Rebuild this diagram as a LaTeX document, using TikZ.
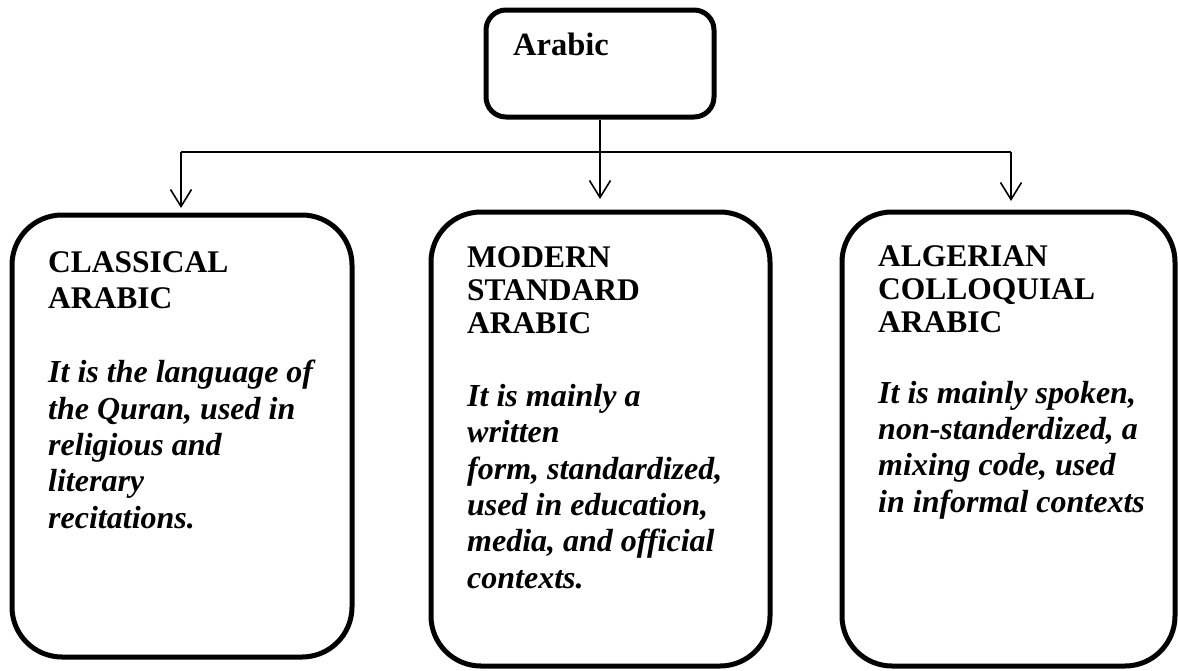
\documentclass[tikz,border=0pt]{standalone}
\usepackage{fontspec}
\setmainfont{Liberation Serif}
\usetikzlibrary{arrows.meta}
\tikzset{
  box/.style={draw=black, line width=5pt, rounded corners=50pt, inner sep=0pt},
  topbox/.style={draw=black, line width=5pt, rounded corners=20pt, inner sep=0pt},
  conn/.style={draw=black, line width=1.6pt},
  arr/.style={conn, -{Straight Barb[length=17pt,width=21pt]}},
  head/.style={inner sep=0pt, anchor=base west, align=left, font=\fontsize{31.5}{36}\selectfont\bfseries},
  headb/.style={head, font=\fontsize{31.5}{33}\selectfont\bfseries},
  body/.style={inner sep=0pt, anchor=base west, align=left, font=\fontsize{32}{36.3}\selectfont\bfseries\itshape},
}
\begin{document}
\begin{tikzpicture}[x=1pt,y=-1pt]
\useasboundingbox (0,0) rectangle (1178,670);
% boxes
\node[topbox, minimum width=228pt, minimum height=107pt] (top) at (600,63.5) {};
\node[box, minimum width=340pt, minimum height=442pt] (cl) at (182,436) {};
\node[box, minimum width=339pt, minimum height=454pt] (ms) at (600.5,439) {};
\node[box, minimum width=333pt, minimum height=454pt] (ac) at (1008.5,439) {};
% texts (anchored at the baseline of the last line)
\node[head, font=\fontsize{32.5}{36}\selectfont\bfseries] (ttl) at (513,55) {Arabic};
\node[head] (clh) at (48,308) {CLASSICAL\\ARABIC};
\node[body] (clb) at (48,528) {It is the language of\\the Quran, used in\\religious and\\literary\\recitations.};
\node[headb] (msh) at (467,333) {MODERN\\STANDARD\\ARABIC};
\node[body] (msb) at (467,588) {It is mainly a\\written\\form, standardized,\\used in education,\\media, and official\\contexts.};
\node[headb] (ach) at (878,332) {ALGERIAN\\COLLOQUIAL\\ARABIC};
\node[body] (acb) at (878,512) {It is mainly spoken,\\non-standerdized, a\\mixing code, used\\in informal contexts};
% connectors
\coordinate (hL) at (181,152);
\coordinate (hR) at (1011,152);
\coordinate (tL) at (181,208);
\coordinate (tM) at (600,199);
\coordinate (tR) at (1011,201);
\draw[conn] (hL) -- (hR);
\draw[arr] (hL) -- (tL);
\draw[arr] (hR) -- (tR);
\draw[arr] (top.south) -- (tM);
\end{tikzpicture}
\end{document}
